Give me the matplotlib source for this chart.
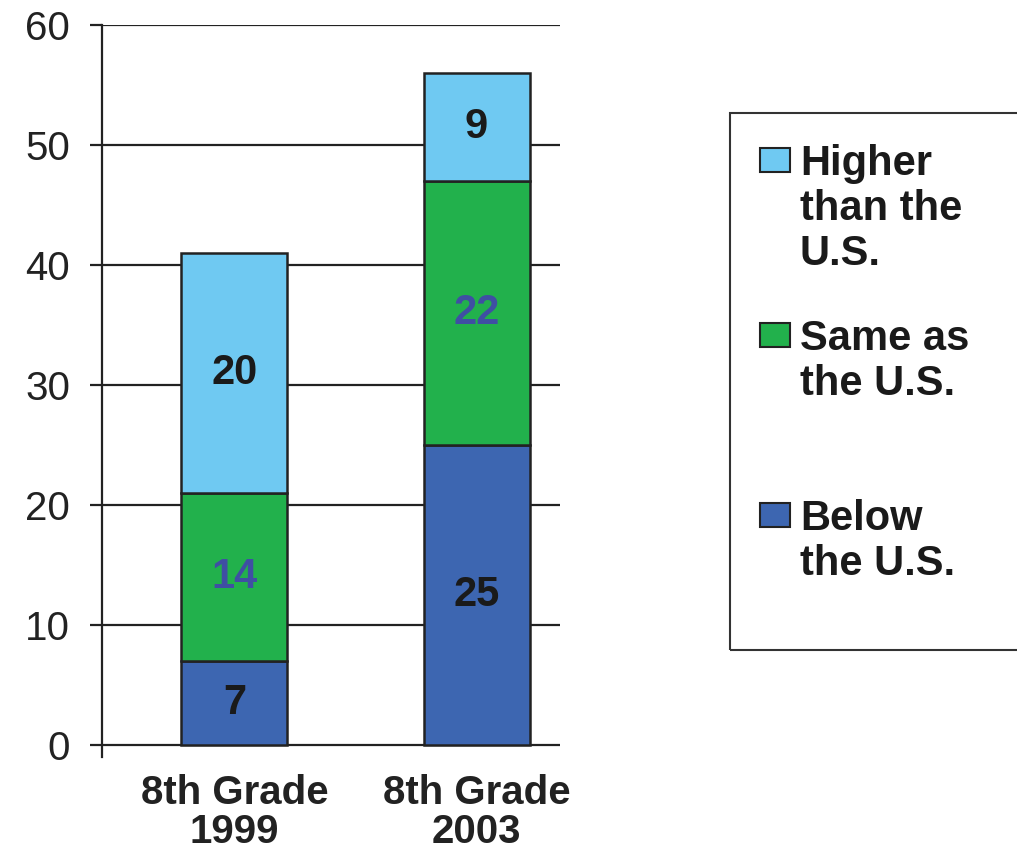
import matplotlib.pyplot as plt
from matplotlib.patches import Rectangle

# data
grades = ["8th Grade\n1999", "8th Grade\n2003"]
below = [7, 25]
same = [14, 22]
higher = [20, 9]
series_names = ["Higher\nthan the\nU.S.", "Same as\nthe U.S.", "Below\nthe U.S."]
colors = {"below": "#3D66B1", "same": "#22B14C", "higher": "#6FC9F2"}

plt.rcParams["font.family"] = ["Liberation Sans", "DejaVu Sans"]
W, H = 1017, 857
fig = plt.figure(figsize=(W / 100, H / 100), dpi=100)
ax = fig.add_axes([102 / W, 1 - 757 / H, (560 - 102) / W, (757 - 25) / H])

x = list(range(len(grades)))
edge = "#222222"
bw = 0.438
ax.bar(x, below, bw, color=colors["below"], edgecolor=edge, linewidth=1.8, zorder=3)
ax.bar(x, same, bw, bottom=below, color=colors["same"], edgecolor=edge, linewidth=1.8, zorder=3)
bot2 = [b + s for b, s in zip(below, same)]
ax.bar(x, higher, bw, bottom=bot2, color=colors["higher"], edgecolor=edge, linewidth=1.8, zorder=3)

# segment labels
for i in x:
    ax.text(i, below[i] / 2, str(below[i]), ha="center", va="center",
            fontsize=30, fontweight="bold", color="#1a1a1a", zorder=4)
    ax.text(i, below[i] + same[i] / 2, str(same[i]), ha="center", va="center",
            fontsize=30, fontweight="bold", color="#3F4FA3", zorder=4)
    ax.text(i, bot2[i] + higher[i] / 2, str(higher[i]), ha="center", va="center",
            fontsize=30, fontweight="bold", color="#1a1a1a", zorder=4)

ax.set_xlim(-0.5475, 1.345)
ax.set_ylim(-1, 60)
ax.set_yticks(range(0, 61, 10))
ax.set_xticks(x)
ax.set_xticklabels(grades, fontsize=29, fontweight="bold", color="#222222", linespacing=1.05)
ax.tick_params(axis="x", length=0, pad=12)
ax.tick_params(axis="y", length=9, width=1.6, color="#222222", pad=14,
               labelsize=29, labelcolor="#222222")
for s in ["top", "right", "bottom"]:
    ax.spines[s].set_visible(False)
ax.spines["left"].set_linewidth(1.6)
ax.spines["left"].set_color("#222222")
ax.grid(axis="y", color="#222222", linewidth=1.6)
ax.set_axisbelow(True)

# legend box drawn by hand (uneven spacing in the original)
fig.patches.append(Rectangle((730 / W, 1 - 650 / H), 300 / W, (650 - 113) / H,
                             transform=fig.transFigure, fill=False,
                             edgecolor="#333333", linewidth=1.5))
leg_keys = ["higher", "same", "below"]
leg_top = [172, 347, 527]
for key, name, yb in zip(leg_keys, series_names, leg_top):
    fig.patches.append(Rectangle((760 / W, 1 - yb / H), 30 / W, 24 / H,
                                 transform=fig.transFigure, facecolor=colors[key],
                                 edgecolor=edge, linewidth=1.5))
    for j, line in enumerate(name.split("\n")):
        fig.text(800 / W, 1 - (yb + 3 + j * 45) / H, line, fontsize=30,
                 fontweight="bold", color="#1a1a1a", va="baseline", ha="left")

fig.savefig("out.png", dpi=100)
